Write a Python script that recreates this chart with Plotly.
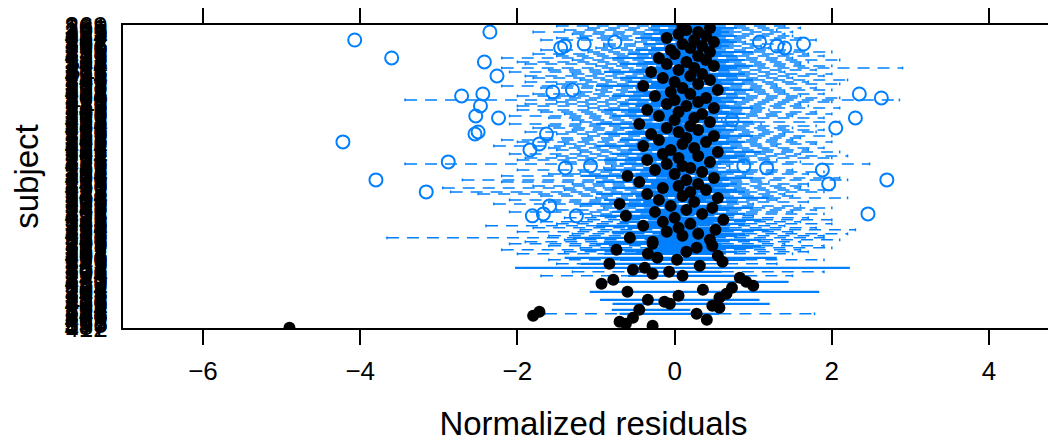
import plotly.graph_objects as go

# subject labels, bottom row first
subjects = [
    "412","187","355","268","431","209","376","143","298","322",
    "254","189","407","336","271","118","392","245","363","201",
    "284","327","156","439","213","348","275","194","306","262",
    "388","137","219","345","291","176","403","258","331","167",
    "382","227","309","296","142","371","236","419","183","357",
    "264","128","395","248","313","172","426","233","367","281",
    "149","398","222","339","305","161","384","247","318","193",
    "421","256","343","135","276","409","238","364","197","315",
    "289","152","437","226","352","272","164","391","241","326",
    "181","414","267","303","145","378","232","359","286","171",
    "405","251","334","198","423","263","317","158","386","243",
    "349","279","131","411","229","366","294","184","428","257",
    "321","168","399","237","342","283","154","417","266","311",
    "192","374","244","358","277","139","433","221","338","299",
    "177","396","253","362","287","162","424","235","329","195",
    "381","269",
]

# per-subject summary (bottom row first): median, box edges, whisker ends
med = [
    -4.90,-0.28,-0.62,-0.70,0.41,-0.53,-1.80,0.28,-1.72,-0.45,
    0.57,0.48,-0.06,-0.13,-0.34,0.57,0.05,0.66,-0.60,0.36,
    0.73,1.00,-0.93,0.91,-0.78,0.83,0.10,-0.28,-0.07,-0.53,
    -0.38,0.32,-0.83,0.61,0.03,-0.22,0.55,-0.34,0.15,-0.74,
    0.28,0.48,-0.28,
    -0.28,0.45,-0.57,0.10,0.30,-0.10,0.52,0.05,-0.40,0.20,
    -0.15,0.62,0.00,-0.62,0.35,-0.25,0.15,0.48,-0.05,-0.70,
    0.25,-0.20,0.55,0.10,-0.35,0.20,0.40,-0.15,0.05,0.30,
    -0.45,0.15,0.50,-0.60,0.00,0.35,-0.25,0.20,0.10,-0.10,
    0.45,-0.35,0.05,0.30,-0.15,0.55,-0.05,0.25,-0.40,0.10,
    0.40,-0.20,0.15,0.50,-0.30,0.05,0.30,-0.10,0.20,-0.45,
    0.45,0.00,0.25,-0.20,0.35,0.05,-0.35,0.50,0.15,-0.10,
    0.30,0.00,0.40,-0.25,0.20,-0.05,0.55,0.10,-0.40,0.30,
    0.00,0.45,-0.15,0.20,0.35,-0.30,0.05,0.25,0.50,-0.10,
    0.15,0.40,-0.20,0.30,0.00,0.45,-0.05,0.20,0.35,0.10,
    0.50,0.25,-0.10,0.40,0.05,0.30,0.15,0.45,0.10,
]
q1 = [
    None,None,None,None,None,None,None,-0.70,None,-0.80,
    None,None,-0.79,None,-0.95,None,None,None,-1.08,None,
    None,None,None,-1.00,None,None,-0.60,None,-0.50,None,
    -2.03,None,-1.20,None,-0.70,-1.40,None,-0.90,-0.50,-1.20,
    -0.30,-0.20,-1.00,
    -0.9,-0.3,-1.3,-0.5,-0.2,-0.8,-0.1,-0.6,-1.0,-0.4,
    -0.7,0.0,-0.6,-0.95,-0.3,-0.8,-0.5,-0.1,-0.6,-1.2,
    -0.4,-0.9,0.0,-0.5,-1.0,-0.3,-0.2,-0.8,-0.5,-0.3,
    -1.0,-0.6,-0.1,-1.2,-0.5,-0.2,-0.9,-0.4,-0.3,-0.7,
    0.0,-0.9,-0.6,-0.4,-0.8,-0.1,-0.6,-0.3,-1.0,-0.5,
    -0.2,-0.7,-0.4,0.0,-0.9,-0.6,-0.2,-0.7,-0.4,-1.0,
    -0.1,-0.5,-0.3,-0.8,-0.2,-0.6,-0.9,0.0,-0.5,-0.7,
    -0.3,-0.6,-0.2,-0.8,-0.4,-0.6,0.0,-0.5,-1.0,-0.3,
    -0.6,-0.1,-0.7,-0.4,-0.2,-0.9,-0.5,-0.3,0.0,-0.7,
    -0.4,-0.2,-0.8,-0.3,-0.6,-0.1,-0.5,-0.3,-0.1,-0.4,
    0.1,-0.3,-0.5,0.0,-0.4,-0.2,-0.3,0.0,-0.3,
]
q3 = [
    None,None,None,None,None,None,None,0.57,None,0.20,
    None,None,1.21,None,1.08,None,None,None,1.84,None,
    None,None,None,1.45,None,None,0.90,None,0.60,None,
    2.23,None,0.40,None,0.90,1.30,None,0.50,0.80,0.50,
    1.00,1.10,0.60,
    0.55,1.1,0.5,0.8,0.9,0.6,1.2,0.7,0.3,0.9,
    0.5,1.1,0.6,0.1,0.9,0.4,0.7,1.0,0.6,-0.1,
    0.8,0.4,1.2,0.6,0.3,0.9,0.8,0.5,0.7,0.8,
    0.2,0.7,1.0,0.0,0.6,0.9,0.4,0.5,0.4,0.6,
    0.9,0.3,0.8,0.9,0.5,1.1,0.6,0.8,0.2,0.7,
    0.9,0.4,0.7,1.0,0.3,0.6,0.8,0.5,0.8,0.1,
    1.0,0.4,0.8,0.4,0.9,0.7,0.2,1.0,0.7,0.5,
    0.8,0.6,0.9,0.4,0.8,0.5,1.0,0.7,0.2,0.9,
    0.6,1.0,0.4,0.8,0.9,0.3,0.7,0.8,1.0,0.5,
    0.7,0.9,0.4,0.8,0.6,1.0,0.5,0.6,0.7,0.6,
    0.8,0.7,0.5,0.8,0.6,0.7,0.6,0.8,0.5,
]
lo = [
    None,None,None,None,None,None,None,-1.65,None,-0.80,
    None,None,-0.79,None,-0.95,None,None,None,-1.08,None,
    None,None,None,-1.00,None,None,-1.70,None,-1.30,None,
    -2.03,None,-1.50,None,-1.60,-1.40,None,-2.00,-1.40,-2.20,
    -1.20,-1.60,-2.10,
    -1.9,-1.4,-3.66,-1.6,-1.3,-2.0,-1.2,-1.8,-2.4,-1.5,
    -1.7,-1.1,-1.4,-1.05,-1.2,-2.1,-1.5,-0.9,-1.2,-2.3,
    -1.6,-2.1,-1.0,-1.7,-2.5,-2.85,-1.4,-2.95,-1.8,-1.3,
    -2.2,-2.7,-1.0,-2.2,-1.6,-1.2,-2.0,-0.9,-0.8,-3.43,
    -1.4,-2.0,-1.9,-1.5,-2.1,-1.2,-1.5,-1.6,-2.3,-1.4,
    -2.0,-2.2,-1.7,-1.1,-1.5,-1.9,-1.3,-1.8,-1.6,-2.1,
    -1.2,-1.3,-1.6,-2.1,-1.4,-1.7,-2.0,-1.1,-2.0,-1.9,
    -1.5,-3.43,-1.6,-2.0,-1.8,-1.2,-1.0,-1.7,-2.2,-1.5,
    -1.9,-1.2,-1.8,-1.9,-1.3,-2.1,-1.6,-2.2,-1.0,-1.9,
    -2.0,-1.3,-2.2,-1.5,-1.8,-1.1,-1.7,-1.0,-0.9,-0.9,
    -0.5,-1.7,-1.5,-1.2,-1.3,-1.8,-1.4,-1.1,-1.5,
]
hi = [
    None,None,None,None,None,None,None,1.78,None,0.20,
    None,None,1.21,None,1.08,None,None,None,1.84,None,
    None,None,None,1.45,None,None,1.50,None,1.90,None,
    2.23,None,1.30,None,1.90,1.30,None,1.50,1.70,1.60,
    2.00,1.90,1.40,
    1.6,2.1,1.9,1.9,2.2,1.5,2.3,1.8,1.4,2.0,
    1.6,2.0,1.7,1.0,1.9,1.5,1.8,2.0,1.6,1.0,
    1.7,1.3,2.2,1.5,1.4,1.9,2.0,1.6,1.7,1.7,
    1.2,2.2,2.1,0.9,1.7,1.9,1.5,0.7,0.7,2.48,
    1.6,1.3,2.0,2.2,1.6,2.1,1.7,1.9,1.3,1.8,
    2.0,1.5,1.6,2.0,1.4,1.8,1.9,1.5,1.8,1.1,
    2.1,0.6,1.9,1.5,2.0,1.8,1.2,2.1,1.7,1.6,
    2.0,2.86,2.1,1.6,1.9,1.4,2.0,1.8,1.3,2.1,
    1.7,2.2,1.5,1.9,2.0,1.4,1.8,2.9,2.0,1.6,
    1.7,2.1,1.5,1.9,1.7,2.0,1.6,1.2,1.1,1.4,
    0.9,1.8,1.6,1.5,1.4,1.5,1.3,1.6,1.4,
]

# outliers: row position (1 = bottom) and value
out_row = [57,57,58,58,62,69,73,75,75,80,81,81,82,82,84,90,93,94,98,98,
           99,101,105,106,106,107,112,116,117,118,118,119,120,127,134,136,
           141,141,142,142,143,143,144,144,145,149]
out_val = [-1.25,-1.81,-1.67,2.46,-1.59,-3.16,1.96,-3.80,2.70,1.88,-1.39,1.17,
           -1.07,0.88,-2.88,-1.84,-1.72,-4.22,-2.54,-1.63,-2.50,2.05,0.73,2.30,
           -2.24,-2.53,-2.47,2.63,-2.71,-2.44,2.35,-1.55,-1.30,-2.26,-2.42,-3.60,
           -1.45,1.40,-1.40,1.30,-1.15,1.64,1.08,-0.76,-4.07,-2.35]

xticks = [-6, -4, -2, 0, 2, 4]

BLUE = "#0080FF"
FONT = "Liberation Sans, Arial, Helvetica, sans-serif"

rows = list(range(1, len(subjects) + 1))

bx, by, wx, wy, cx, cy = [], [], [], [], [], []
for r, a, b, l, h in zip(rows, q1, q3, lo, hi):
    if a is None:
        continue
    if b > a:
        bx += [a, b, None]
        by += [r, r, None]
    if l < a:
        wx += [l, a, None]
        wy += [r, r, None]
        cx.append(l); cy.append(r)
    if h > b:
        wx += [b, h, None]
        wy += [r, r, None]
        cx.append(h); cy.append(r)

fig = go.Figure()
fig.add_trace(go.Scatter(x=wx, y=wy, mode="lines", line=dict(color=BLUE, width=1.5, dash="12px,8px"),
                         hoverinfo="skip", showlegend=False))
fig.add_trace(go.Scatter(x=cx, y=cy, mode="markers",
                         marker=dict(symbol="line-ns-open", size=2, color=BLUE,
                                     line=dict(color=BLUE, width=1.5)),
                         hoverinfo="skip", showlegend=False))
fig.add_trace(go.Scatter(x=bx, y=by, mode="lines", line=dict(color=BLUE, width=2.2),
                         hoverinfo="skip", showlegend=False))
fig.add_trace(go.Scatter(x=out_val, y=out_row, mode="markers",
                         marker=dict(symbol="circle-open", size=13, color=BLUE, line=dict(color=BLUE, width=2)),
                         showlegend=False))
fig.add_trace(go.Scatter(x=med, y=rows, mode="markers",
                         marker=dict(symbol="circle", size=12, color="black"),
                         showlegend=False))

# the page draws the figure 8px in from the window's top-left corner
fig.update_layout(
    width=1056, height=442,
    margin=dict(l=115, r=0, t=17, b=122),
    paper_bgcolor="white", plot_bgcolor="white",
    font=dict(family=FONT, color="black"),
    showlegend=False,
)
fig.update_xaxes(
    range=[-7.018, 4.954], tickvals=xticks, automargin=False,
    showgrid=False, zeroline=False,
    showline=True, linecolor="black", linewidth=2, mirror="ticks",
    ticks="outside", ticklen=15, tickwidth=1.5, tickcolor="black",
    ticklabelstandoff=4,
    tickfont=dict(size=26, family=FONT),
    title=dict(text="Normalized residuals", font=dict(size=33, family=FONT), standoff=27),
)
fig.update_yaxes(
    range=[0.9, len(subjects) + 0.5], automargin=False,
    tickmode="array", tickvals=rows, ticktext=subjects,
    showgrid=False, zeroline=False,
    showline=True, linecolor="black", linewidth=2, mirror=False,
    ticks="outside", ticklen=8, tickcolor="rgba(0,0,0,0)",
    tickfont=dict(size=26, family=FONT),
    title=dict(text="subject", font=dict(size=33, family=FONT), standoff=24),
)

fig.write_html("out.html")
